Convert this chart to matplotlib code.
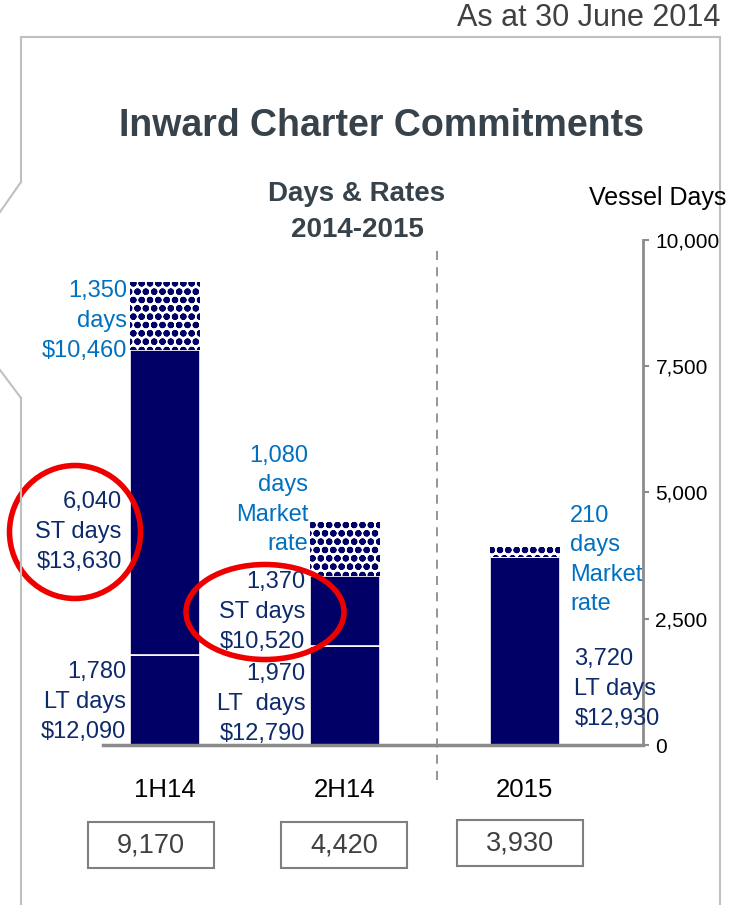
import numpy as np
import matplotlib
matplotlib.use('Agg')
import matplotlib.pyplot as plt
from matplotlib.patches import Ellipse, Rectangle
from matplotlib.lines import Line2D
from matplotlib.ticker import FuncFormatter

plt.rcParams['font.family'] = ['Liberation Sans', 'DejaVu Sans']
plt.rcParams['hatch.linewidth'] = 2.2

# data
categories = ['1H14', '2H14', '2015']
lt_days = [1780, 1970, 3720]
st_days = [6040, 1370, 0]
market_days = [1350, 1080, 210]
lt_rates = ['$12,090', '$12,790', '$12,930']
st_rates = ['$13,630', '$10,520', None]
market_rates = ['$10,460', 'Market\nrate', 'Market\nrate']
yticks = [0, 2500, 5000, 7500, 10000]

navy = '#000066'
dark_txt = '#0d2a6b'
blue_txt = '#0070c0'
grey = '#8c8c8c'
title_col = '#37424a'

W, H = 743, 905
fig = plt.figure(figsize=(W / 100, H / 100), dpi=100)


def fx(px):
    return px / W


def fy(py):
    return 1 - py / H


ax = fig.add_axes([fx(103), fy(745), fx(643) - fx(103), fy(240) - fy(745)])
x = np.arange(len(categories))
bw = 0.385

lt = np.array(lt_days)
st = np.array(st_days)
mk = np.array(market_days)

ax.bar(x, lt, bw, color=navy, edgecolor='white', linewidth=1.2)
ax.bar(x, st, bw, bottom=lt, color=navy, edgecolor='white', linewidth=1.2)
ax.bar(x, mk, bw, bottom=lt + st, color='white', edgecolor=navy, hatch='oo', linewidth=0)

ax.set_xlim(-0.344, 2.656)
ax.set_ylim(0, 10000)
for s in ['left', 'top']:
    ax.spines[s].set_visible(False)
ax.spines['right'].set_color(grey)
ax.spines['right'].set_linewidth(2)
ax.spines['bottom'].set_color(grey)
ax.spines['bottom'].set_linewidth(2.5)
ax.yaxis.tick_right()
ax.set_yticks(yticks)
ax.yaxis.set_major_formatter(FuncFormatter(lambda v, p: f'{int(v):,}'))
ax.tick_params(axis='y', direction='out', length=4, width=1.5, color=grey,
               labelsize=15, pad=5)
ax.set_xticks(x, categories)
ax.tick_params(axis='x', length=0, pad=24, labelsize=18.5)

# divider between halves and full year
ax.plot([1.511, 1.511], [-700, 9900], color=grey, lw=1.3, ls=(0, (5, 4)), clip_on=False)

fs = 17
ls = 1.45
# 1H14 labels
ax.text(-0.21, 8396, f'{market_days[0]:,}\ndays\n{market_rates[0]}', ha='right', va='center',
        color=blue_txt, fontsize=fs, linespacing=ls)
ax.text(-0.24, 4218, f'{st_days[0]:,}\nST days\n{st_rates[0]}', ha='right', va='center',
        color=dark_txt, fontsize=fs, linespacing=ls)
ax.text(-0.215, 851, f'{lt_days[0]:,}\nLT days\n{lt_rates[0]}', ha='right', va='center',
        color=dark_txt, fontsize=fs, linespacing=ls)
# 2H14 labels
ax.text(0.795, 4851, f'{market_days[1]:,}\ndays\n{market_rates[1]}', ha='right', va='center',
        color=blue_txt, fontsize=fs, linespacing=ls)
ax.text(0.78, 2634, f'{st_days[1]:,}\nST days\n{st_rates[1]}', ha='right', va='center',
        color=dark_txt, fontsize=fs, linespacing=ls)
ax.text(0.78, 812, f'{lt_days[1]:,}\nLT  days\n{lt_rates[1]}', ha='right', va='center',
        color=dark_txt, fontsize=fs, linespacing=ls)
# 2015 labels
ax.text(2.25, 3663, f'{market_days[2]:,}\ndays\n{market_rates[2]}', ha='left', va='center',
        color=blue_txt, fontsize=fs, linespacing=ls)
ax.text(2.275, 1109, f'{lt_days[2]:,}\nLT days\n{lt_rates[2]}', ha='left', va='center',
        color=dark_txt, fontsize=fs, linespacing=ls)

# red call-out rings
fig.add_artist(Ellipse((fx(75), fy(532)), fx(131), 133 / H, fill=False, ec='#ee0000', lw=4))
fig.add_artist(Ellipse((fx(265), fy(612)), fx(158), 95 / H, fill=False, ec='#ee0000', lw=4))

# totals boxes
totals = lt + st + mk
box_cx = [151, 344, 520]
box_cy = [845, 845, 843]
for cx, cy, t in zip(box_cx, box_cy, totals):
    fig.add_artist(Rectangle((fx(cx - 63), fy(cy + 23)), fx(126), 46 / H, fill=False,
                             ec='#7f7f7f', lw=1.5))
    fig.text(fx(cx), fy(cy), f'{t:,}', ha='center', va='center', fontsize=19.5, color='#404040')

# outer frame
frame_col = '#c0c0c0'
for xs, ys in [([21, 21], [182, 37]), ([21, 720], [37, 37]), ([720, 720], [37, 905]),
               ([0, 21], [212, 182]), ([0, 21], [370, 398]), ([21, 21], [398, 905])]:
    fig.add_artist(Line2D([fx(v) for v in xs], [fy(v) for v in ys], color=frame_col, lw=1.5))

fig.text(fx(720), fy(18), 'As at 30 June 2014', ha='right', va='center', fontsize=22, color='#404040')
fig.text(fx(382), fy(126), 'Inward Charter Commitments', ha='center', va='center',
         fontsize=27, fontweight='bold', color=title_col)
fig.text(fx(357), fy(212), 'Days & Rates\n2014-2015', ha='center', va='center',
         fontsize=20, fontweight='bold', color=title_col, linespacing=1.5)
fig.text(fx(658), fy(198), 'Vessel Days', ha='center', va='center', fontsize=18, color='black')

fig.savefig('out.png', dpi=100)
